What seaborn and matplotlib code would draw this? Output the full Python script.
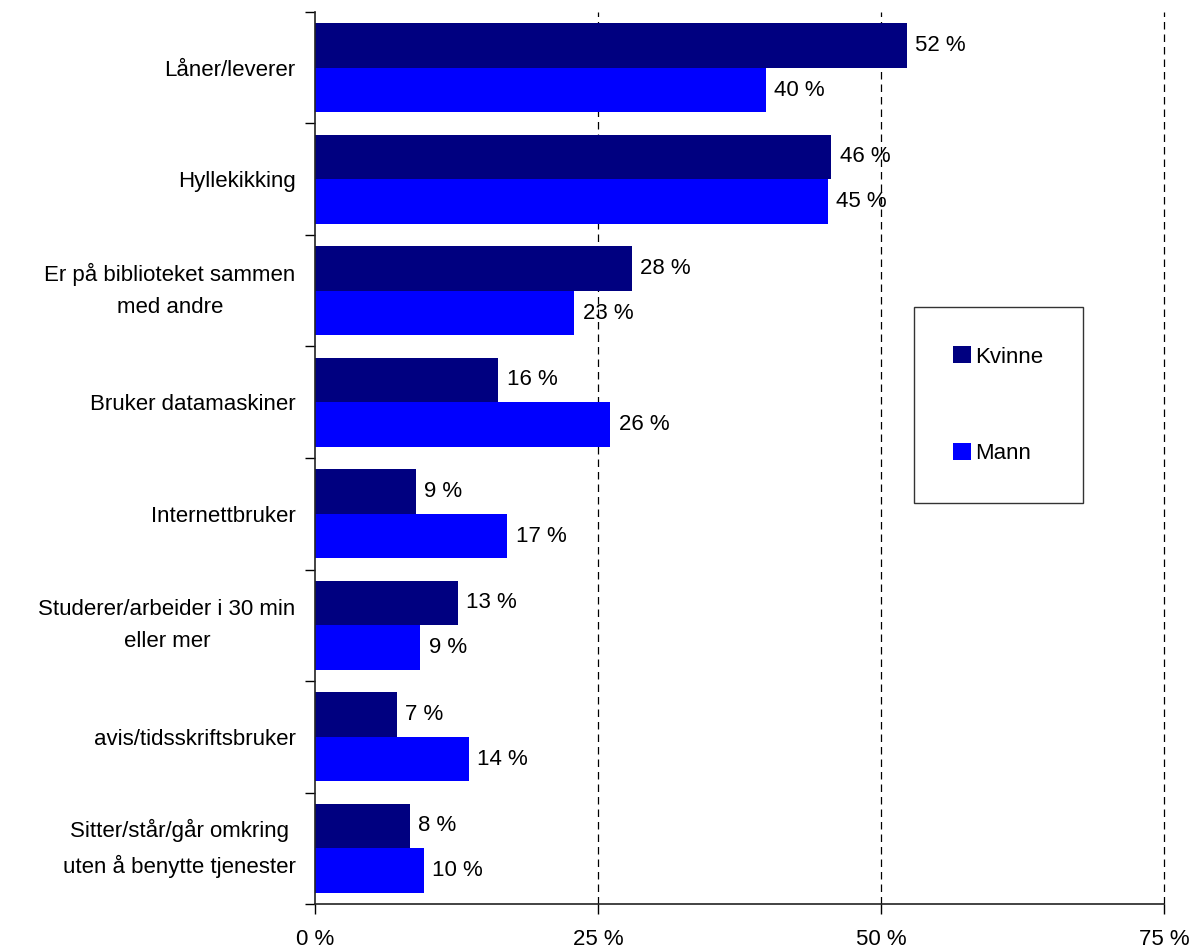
import pandas as pd
import seaborn as sns
import matplotlib.pyplot as plt
from matplotlib.patches import Patch

# data
kategorier = ['Låner/leverer', 'Hyllekikking', 'Er på biblioteket sammen\nmed andre',
              'Bruker datamaskiner', 'Internettbruker', 'Studerer/arbeider i 30 min\neller mer',
              'avis/tidsskriftsbruker', 'Sitter/står/går omkring\nuten å benytte tjenester']
kvinne = [52.3, 45.6, 28.0, 16.2, 8.9, 12.6, 7.2, 8.4]
mann = [39.8, 45.3, 22.9, 26.1, 17.0, 9.3, 13.6, 9.6]
grupper = ['Kvinne', 'Mann']
farger = ['#000080', '#0000FF']
xticks = [0, 25, 50, 75]

#long format for seaborn
dFrame = pd.DataFrame({
    'kategori': kategorier * 2,
    'andel': kvinne + mann,
    'kjønn': ['Kvinne'] * len(kategorier) + ['Mann'] * len(kategorier),
})

sns.set_style('white')
plt.rcParams['font.family'] = ['Liberation Sans', 'DejaVu Sans']
plt.rcParams['text.color'] = 'black'
plt.rcParams['xtick.color'] = 'black'
plt.rcParams['ytick.color'] = 'black'
fs = 16

fig = plt.figure(figsize=(11.95, 9.51), dpi=100)
ax = fig.add_axes([0.2636, 0.0494, 0.7105, 0.938])

sns.barplot(data=dFrame, y='kategori', x='andel', hue='kjønn', hue_order=grupper,
            palette=farger, orient='h', width=0.8, saturation=1, legend=False,
            linewidth=0, ax=ax)

#value labels next to the bars
for cont, vals in zip(ax.containers, [kvinne, mann]):
    ax.bar_label(cont, labels=[f'{round(v)} %' for v in vals], padding=6, fontsize=fs)

ax.set_xlim(0, 75)
ax.set_ylim(len(kategorier) - 0.5, -0.5)
ax.set_xlabel('')
ax.set_ylabel('')

#dashed gridlines
for x in xticks[1:]:
    ax.axvline(x, color='black', linestyle=(0, (6, 4)), linewidth=0.9, zorder=0, clip_on=False)

ax.set_xticks(xticks)
ax.set_xticklabels([f'{x} %' for x in xticks], fontsize=fs)
ax.tick_params(axis='x', direction='out', length=7, width=1, pad=11, bottom=True)

#ticks on category boundaries, labels at centres
ax.set_yticks([i - 0.5 for i in range(len(kategorier) + 1)])
ax.set_yticklabels([])
ax.set_yticks(range(len(kategorier)), minor=True)
ax.set_yticklabels(kategorier, minor=True, fontsize=fs, multialignment='center', linespacing=1.7)
for lbl in ax.get_yticklabels(minor=True):
    #two-line labels centred on the box, single lines on the baseline
    lbl.set_va('center' if '\n' in lbl.get_text() else 'center_baseline')
ax.tick_params(axis='y', which='major', direction='out', length=7, width=1, left=True)
ax.tick_params(axis='y', which='minor', length=0, pad=14)

for s in ['top', 'right']:
    ax.spines[s].set_visible(False)
for s in ['left', 'bottom']:
    ax.spines[s].set_color('#222222')
    ax.spines[s].set_linewidth(1.2)

handles = [Patch(facecolor=c, edgecolor='none', label=g) for g, c in zip(grupper, farger)]
leg = ax.legend(handles=handles, loc='center', bbox_to_anchor=(0.805, 0.559), fontsize=fs,
                frameon=True, fancybox=False, edgecolor='black', borderpad=1.75,
                labelspacing=3.4, handlelength=0.8, handleheight=0.8, handletextpad=0.2)
leg.get_frame().set_linewidth(1.0)

fig.savefig('out.png', dpi=100)
